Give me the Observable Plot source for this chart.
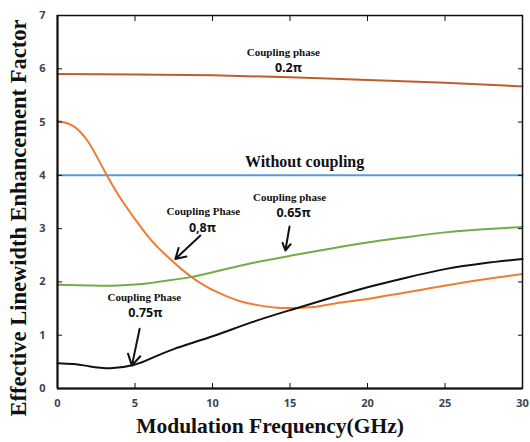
<!DOCTYPE html>
<html><head><meta charset="utf-8">
<script src="https://cdn.jsdelivr.net/npm/d3@7"></script>
<script src="https://cdn.jsdelivr.net/npm/@observablehq/plot@0.6"></script>
<style>body{margin:0;background:#fff;} svg{display:block;}</style>
</head><body><div id="chart"></div>
<script>
const xTicks = [0,5,10,15,20,25,30];
const yTicks = [0,1,2,3,4,5,6,7];
const phase02 = [[0,5.9],[5,5.895],[10,5.88],[15,5.84],[20,5.79],[25,5.74],[30,5.67]];
const noCoupling = [[0,4],[30,4]];
const phase08 = [[0,5.02],[1,4.93],[2,4.62],[3,4.1],[4,3.6],[5,3.18],[6,2.8],[7,2.5],[8,2.24],[9,2.02],[10,1.85],[11,1.72],[12,1.62],[13,1.56],[14,1.52],[15,1.51],[16,1.52],[17,1.55],[18,1.6],[20,1.68],[22,1.78],[24,1.88],[26,1.98],[28,2.07],[30,2.15]];
const phase065 = [[0,1.945],[2,1.935],[3.5,1.93],[5,1.95],[6,1.98],[7,2.02],[8.6,2.09],[10,2.18],[12.5,2.35],[15,2.49],[17.5,2.62],[20,2.74],[22.5,2.84],[25,2.93],[27.5,2.99],[30,3.03]];
const phase075 = [[0,0.475],[1,0.46],[2,0.42],[3.4,0.38],[4.9,0.44],[6,0.56],[7.5,0.74],[10,0.98],[12.5,1.24],[15,1.47],[17.5,1.69],[20,1.9],[22.5,2.08],[25,2.24],[27.5,2.35],[30,2.43]];
const series = [
  {name:"0.2π", data:phase02, color:"#bd5f28"},
  {name:"none", data:noCoupling, color:"#5b9bd5"},
  {name:"0.8π", data:phase08, color:"#ed7d31"},
  {name:"0.65π", data:phase065, color:"#70ad47"},
  {name:"0.75π", data:phase075, color:"#111111"}
];
const serifLabels = [
  {text:"Coupling phase", x:14.57, y:6.30, size:11},
  {text:"Without coupling", x:15.94, y:4.25, size:16},
  {text:"Coupling phase", x:14.97, y:3.58, size:11},
  {text:"Coupling Phase", x:9.41, y:3.32, size:11},
  {text:"Coupling Phase", x:5.6, y:1.71, size:11}
];
const piLabels = [
  {text:"0.2π", x:14.9, y:6.01},
  {text:"0.65π", x:15.23, y:3.29},
  {text:"0,8π", x:9.35, y:3.02},
  {text:"0.75π", x:5.67, y:1.41}
];
const arrows = [
  {x1:14.97, y1:3.04, x2:14.7, y2:2.59},
  {x1:9.22, y1:2.87, x2:7.6, y2:2.43},
  {x1:5.3, y1:1.12, x2:4.8, y2:0.43}
];
const lineRows = series.flatMap(s => s.data.map(([x,y]) => ({x, y, name:s.name, color:s.color})));
const tickColor = "#3d4455";
const chart = Plot.plot({
  width:530, height:442,
  marginLeft:57, marginRight:8, marginTop:15, marginBottom:54,
  x:{domain:[0,30]},
  y:{domain:[0,7]},
  marks:[
    Plot.line(lineRows, {x:"x", y:"y", z:"name", stroke:"color", strokeWidth:2, curve:"natural"}),
    Plot.frame({stroke:"#111", strokeWidth:1.5}),
    Plot.ruleY([0], {stroke:"#111", strokeWidth:2}),
    Plot.ruleX([0], {stroke:"#111", strokeWidth:2}),
    Plot.axisX({ticks:xTicks, tickSize:-5, tickPadding:16, tickFormat:"d", label:null, fontSize:11, fontWeight:"bold", fontFamily:"Open Sans", color:tickColor, stroke:"#111"}),
    Plot.axisX({anchor:"top", ticks:xTicks, tickSize:-5, tickFormat:() => "", label:null, stroke:"#111"}),
    Plot.axisY({ticks:yTicks, tickSize:-5, tickPadding:17, tickFormat:"d", label:null, fontSize:11, fontWeight:"bold", fontFamily:"Open Sans", color:tickColor, stroke:"#111"}),
    Plot.axisY({anchor:"right", ticks:yTicks, tickSize:-5, tickFormat:() => "", label:null, stroke:"#111"}),
    Plot.text(serifLabels, {x:"x", y:"y", text:"text", fontSize:d => d.size, fontWeight:"bold", fontFamily:"Liberation Serif", fill:"#111"}),
    Plot.text(piLabels, {x:"x", y:"y", text:"text", fontSize:12.5, fontWeight:"bold", fontFamily:"Open Sans", fill:"#111"}),
    Plot.arrow(arrows, {x1:"x1", y1:"y1", x2:"x2", y2:"y2", stroke:"#111", strokeWidth:2, headLength:10}),
    Plot.text(["Modulation Frequency(GHz)"], {frameAnchor:"bottom", dx:-20, dy:44, fontSize:21.5, fontWeight:"bold", fontFamily:"Liberation Serif", fill:"#111"}),
    Plot.text(["Effective Linewidth Enhancement Factor"], {frameAnchor:"left", textAnchor:"middle", dx:-39, dy:16, rotate:-90, fontSize:22.5, fontWeight:"bold", fontFamily:"Liberation Serif", fill:"#111"})
  ]
});
document.getElementById("chart").appendChild(chart);
</script>
</body></html>
